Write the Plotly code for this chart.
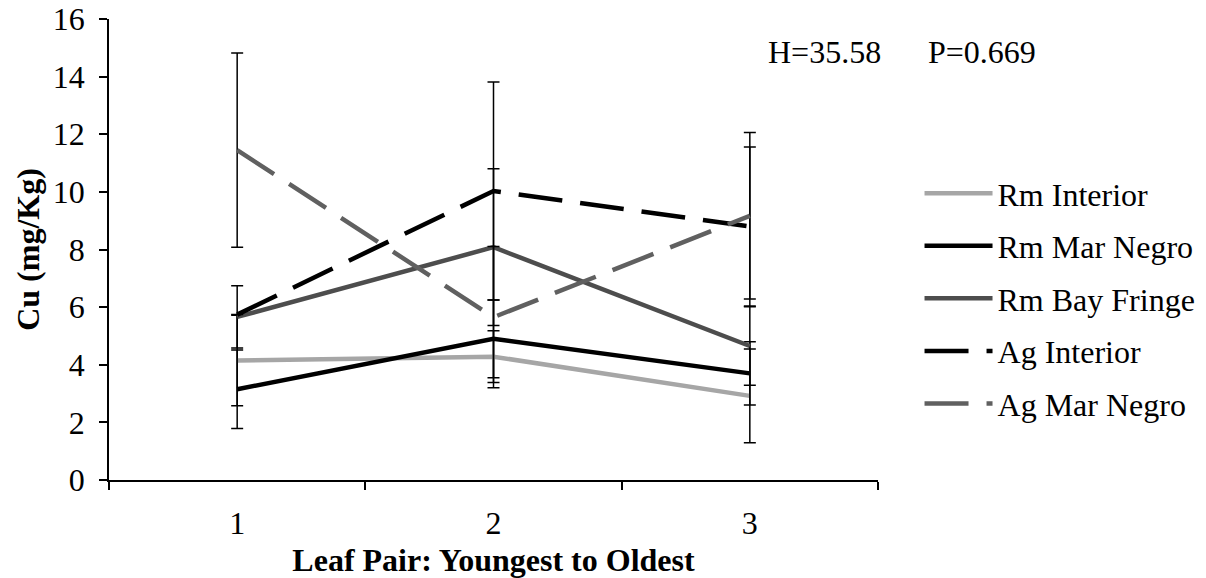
import plotly.graph_objects as go

categories = ["1", "2", "3"]

rm_interior = [4.15, 4.28, 2.92]
rm_interior_err = [1.57, 0.90, 1.63]

rm_mar_negro = [3.15, 4.90, 3.70]
rm_mar_negro_err = [1.36, 1.35, 1.10]

rm_bay_fringe = [5.66, 8.08, 4.65]
rm_bay_fringe_err = [1.08, 2.72, 1.36]

ag_interior = [5.74, 10.03, 8.80]
ag_interior_err = [0.0, 3.78, 2.76]

ag_mar_negro = [11.45, 5.65, 9.17]
ag_mar_negro_err = [3.37, 2.45, 2.89]

series = [
    ("Rm Interior", rm_interior, rm_interior_err, "#A6A6A6", "solid"),
    ("Rm Mar Negro", rm_mar_negro, rm_mar_negro_err, "#000000", "solid"),
    ("Rm Bay Fringe", rm_bay_fringe, rm_bay_fringe_err, "#4D4D4D", "solid"),
    ("Ag Interior", ag_interior, ag_interior_err, "#000000", "44px,18px"),
    ("Ag Mar Negro", ag_mar_negro, ag_mar_negro_err, "#606060", "44px,18px"),
]

FONT = "Liberation Serif"
FS = 32

fig = go.Figure()
for i, (name, vals, errs, color, dash) in enumerate(series):
    fig.add_trace(go.Scatter(
        x=categories, y=vals, mode="lines", name=name,
        legendgroup=f"g{i}",
        line=dict(color=color, width=4.5, dash=dash),
        error_y=dict(type="data", array=errs, visible=True,
                     color="#000000", thickness=1.5, width=6),
    ))

fig.update_layout(
    width=1206, height=578,
    margin=dict(l=109, r=328, t=19, b=98, autoexpand=False),
    paper_bgcolor="white", plot_bgcolor="white",
    font=dict(family=FONT, size=FS, color="black"),
    showlegend=True,
    legend=dict(x=1.054, y=0.394, xanchor="left", yanchor="middle",
                font=dict(family=FONT, size=FS, color="black"),
                itemwidth=68,
                tracegroupgap=8, bgcolor="rgba(0,0,0,0)"),
    xaxis=dict(
        type="category", range=[-0.5, 2.5], tickson="boundaries",
        ticks="outside", ticklen=8, tickwidth=1.5, tickcolor="black",
        showline=True, linecolor="black", linewidth=1.5,
        showgrid=False, zeroline=False, automargin=False,
        ticklabelstandoff=14,
        tickfont=dict(family=FONT, size=FS),
        title=dict(text="<b>Leaf Pair: Youngest to Oldest</b>", standoff=10,
                   font=dict(family=FONT, size=FS)),
    ),
    yaxis=dict(
        range=[0, 16], dtick=2, tick0=0,
        ticks="outside", ticklen=8, tickwidth=1.5, tickcolor="black",
        showline=True, linecolor="black", linewidth=1.5,
        showgrid=False, zeroline=False, automargin=False,
        ticklabelstandoff=8,
        tickfont=dict(family=FONT, size=FS),
        title=dict(text="<b>Cu (mg/Kg)</b>", standoff=4,
                   font=dict(family=FONT, size=FS)),
    ),
    annotations=[
        dict(text="H=35.58", x=0.931, y=0.928, xref="paper", yref="paper",
             xanchor="center", yanchor="middle",
             showarrow=False, font=dict(family=FONT, size=FS)),
        dict(text="P=0.669", x=1.135, y=0.928, xref="paper", yref="paper",
             xanchor="center", yanchor="middle",
             showarrow=False, font=dict(family=FONT, size=FS)),
    ],
)

fig.write_html("out.html")
